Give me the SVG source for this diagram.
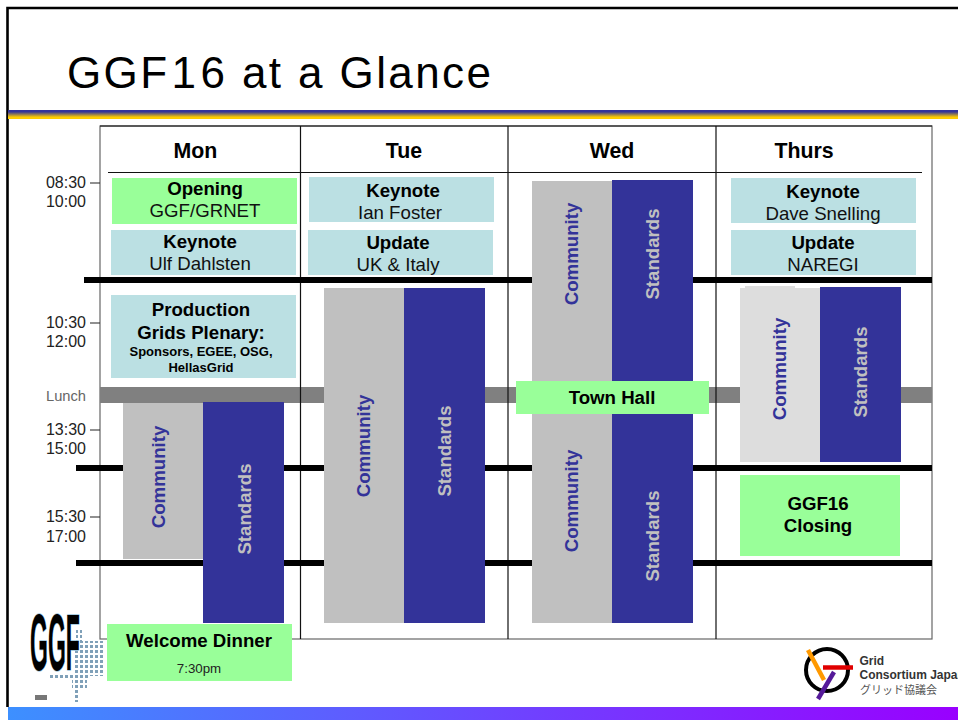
<svg xmlns="http://www.w3.org/2000/svg" width="958" height="720" viewBox="0 0 958 720">
<style>
text{font-family:"Liberation Sans",Arial,sans-serif}
.day{font-size:21.330px;font-weight:700;text-anchor:middle}
.t{font-size:16px;fill:#222;text-anchor:end}
.b{font-size:18.670px;font-weight:700;text-anchor:middle}
.n{font-size:18.670px;text-anchor:middle;fill:#111}
.grn{fill:#99ff99}.blu{fill:#bbe0e3}.gry{fill:#c0c0c0}.nav{fill:#333399}
.vc{font-size:18.670px;font-weight:700;fill:#333399;text-anchor:middle}
.vs{font-size:18.670px;font-weight:700;fill:#c0c0c0;text-anchor:middle}
.hr{stroke:#000;stroke-width:6}
.col{stroke:#111;stroke-width:1.2;fill:none}
</style>
<defs>
<linearGradient id="rule" x1="0" y1="0" x2="0" y2="1"><stop offset="0" stop-color="#333399"/><stop offset=".2" stop-color="#333399"/><stop offset=".8" stop-color="#ffcc00"/><stop offset="1" stop-color="#ffcc00"/></linearGradient>
<linearGradient id="foot" x1="0" y1="0" x2="1" y2="0"><stop offset="0" stop-color="#3d90ff"/><stop offset="1" stop-color="#9900ff"/></linearGradient>
<pattern id="dots" width="5" height="5" patternUnits="userSpaceOnUse"><rect width="3" height="3" fill="#7fa0b8"/></pattern>
</defs>
<rect width="958" height="720" fill="#fff"/>
<rect x="8" y="707" width="950" height="13" fill="url(#foot)"/>
<path d="M7.500 707V8H958" fill="none" stroke="#000" stroke-width="2.600"/>
<rect x="8" y="110" width="950" height="9" fill="url(#rule)"/>
<text x="67" y="88" font-size="44" letter-spacing="2.400" fill="#000">GGF<tspan dx="2">1</tspan><tspan dx="2">6</tspan> at a Glance</text>

<g id="grid">
<rect x="100" y="126" width="832" height="513" fill="#fff" stroke="#666" stroke-width="1.2"/>
<rect x="100" y="387" width="832" height="16" fill="#808080"/>
<path class="col" d="M300.500 126V639M508 126V639M716 126V639M100 126H932"/>
<path d="M108 172.500H922" stroke="#111" stroke-width="1.200"/>
<path class="hr" d="M84 280H932M76 468H932M76 563H932"/>
</g>

<g id="times">
<text class="t" x="86" y="188">08:30</text><text class="t" x="86" y="207">10:00</text>
<text class="t" x="86" y="328">10:30</text><text class="t" x="86" y="347">12:00</text>
<text x="46" y="401" font-size="14.700" fill="#666">Lunch</text>
<text class="t" x="86" y="435">13:30</text><text class="t" x="86" y="454">15:00</text>
<text class="t" x="86" y="522">15:30</text><text class="t" x="86" y="542">17:00</text>
<path d="M90 183H100M90 323H100M90 430H100M90 517H100" stroke="#222" stroke-width="1.200"/>
</g>

<g id="days">
<text class="day" x="195.500" y="158">Mon</text>
<text class="day" x="404" y="158">Tue</text>
<text class="day" x="612" y="158">Wed</text>
<text class="day" x="804" y="158">Thurs</text>
</g>

<g id="mon-opening"><rect class="grn" x="112" y="178" width="185" height="46"/><text class="b" x="205" y="195">Opening</text><text class="n" x="205" y="217">GGF/GRNET</text></g>
<g id="mon-keynote"><rect class="blu" x="111" y="230" width="185" height="45"/><text class="b" x="200" y="248">Keynote</text><text class="n" x="200" y="270">Ulf Dahlsten</text></g>
<g id="mon-plenary"><rect class="blu" x="111" y="295" width="185" height="83"/><text class="b" x="201" y="316">Production</text><text class="b" x="201" y="339">Grids Plenary:</text><text x="201" y="356" font-size="13" font-weight="700" text-anchor="middle">Sponsors, EGEE, OSG,</text><text x="201" y="372" font-size="13" font-weight="700" text-anchor="middle">HellasGrid</text></g>
<g id="mon-community"><rect class="gry" x="123" y="403" width="81" height="156"/><text class="vc" transform="translate(165 477) rotate(-90)">Community</text></g>
<g id="mon-standards"><rect class="nav" x="203" y="402" width="81" height="221"/><text class="vs" transform="translate(251 509) rotate(-90)">Standards</text></g>
<g id="mon-dinner"><rect class="grn" x="107" y="624" width="185" height="57"/><text class="b" x="199" y="647">Welcome Dinner</text><text x="199" y="673" font-size="13.300" text-anchor="middle" fill="#222">7:30pm</text></g>

<g id="tue-keynote"><rect class="blu" x="309" y="177" width="185" height="45"/><text class="b" x="403" y="197">Keynote</text><text class="n" x="400" y="219">Ian Foster</text></g>
<g id="tue-update"><rect class="blu" x="308" y="230" width="185" height="45"/><text class="b" x="398" y="249">Update</text><text class="n" x="398" y="271">UK &amp; Italy</text></g>
<g id="tue-community"><rect class="gry" x="324" y="288" width="81" height="335"/><text class="vc" transform="translate(370 446) rotate(-90)">Community</text></g>
<g id="tue-standards"><rect class="nav" x="404" y="288" width="81" height="335"/><text class="vs" transform="translate(451 451) rotate(-90)">Standards</text></g>

<g id="wed-community-am"><rect class="gry" x="532" y="181" width="81" height="203"/><text class="vc" transform="translate(578 254) rotate(-90)">Community</text></g>
<g id="wed-standards-am"><rect class="nav" x="612" y="180" width="81" height="204"/><text class="vs" transform="translate(659 254) rotate(-90)">Standards</text></g>
<g id="wed-community-pm"><rect class="gry" x="532" y="410" width="81" height="213"/><text class="vc" transform="translate(578 501) rotate(-90)">Community</text></g>
<g id="wed-standards-pm"><rect class="nav" x="612" y="410" width="81" height="213"/><text class="vs" transform="translate(659 536) rotate(-90)">Standards</text></g>
<g id="wed-townhall"><rect class="grn" x="516" y="381" width="193" height="33"/><text class="b" x="612" y="404">Town Hall</text></g>

<g id="thu-keynote"><rect class="blu" x="731" y="178" width="185" height="45"/><text class="b" x="823" y="198">Keynote</text><text class="n" x="823" y="220">Dave Snelling</text></g>
<g id="thu-update"><rect class="blu" x="731" y="230" width="185" height="45"/><text class="b" x="823" y="249">Update</text><text class="n" x="823" y="271">NAREGI</text></g>
<g id="thu-community"><path d="M740 288H745V286H795V288H820V462H740Z" fill="#dddddd"/><text class="vc" transform="translate(786 369) rotate(-90)">Community</text></g>
<g id="thu-standards"><rect class="nav" x="820" y="287" width="81" height="175"/><text class="vs" transform="translate(867 372) rotate(-90)">Standards</text></g>
<g id="thu-closing"><rect class="grn" x="740" y="475" width="160" height="81"/><text class="b" x="818" y="510">GGF16</text><text class="b" x="818" y="532">Closing</text></g>

<g id="logo-ggf">
<rect x="76" y="628" width="6" height="20" fill="url(#dots)"/>
<rect x="75" y="641" width="30" height="35" fill="url(#dots)"/>
<rect x="50" y="674" width="40" height="5" fill="url(#dots)"/>
<rect x="72" y="680" width="15" height="10" fill="url(#dots)"/>
<rect x="73" y="685" width="5" height="17" fill="url(#dots)"/>
<text transform="translate(30 670) scale(.46 1.610)" font-size="50" font-weight="700" fill="#000" stroke="#9cc4dc" stroke-width="1" paint-order="stroke">GGF</text>
<rect x="35" y="695" width="12" height="5" fill="#777"/>
</g>

<g id="logo-gcj">
<circle cx="827" cy="670" r="21" fill="none" stroke="#000" stroke-width="4"/>
<path d="M823 667.500H853" stroke="#e00000" stroke-width="4.500"/>
<path d="M808 650L824 680" stroke="#ff9900" stroke-width="4.500"/>
<path d="M834 672L818 699" stroke="#551a99" stroke-width="4.500"/>
<text x="859.500" y="665" font-size="12" font-weight="700" fill="#333">Grid</text>
<text x="859.500" y="679" font-size="12" font-weight="700" fill="#333">Consortium Japan</text>
<text x="860" y="694" font-size="11" fill="#555" style="font-family:'Noto Sans CJK JP',sans-serif">グリッド協議会</text>
</g>
</svg>
